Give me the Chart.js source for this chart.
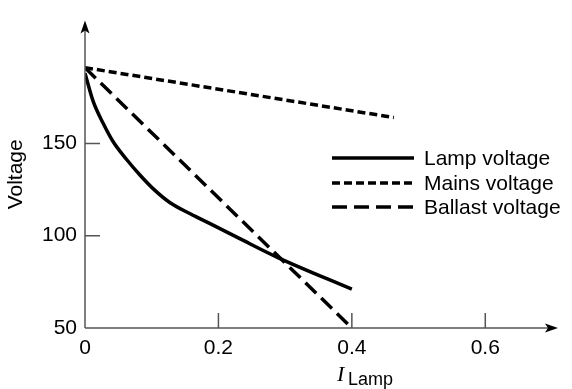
<!DOCTYPE html>
<html>
<head>
<meta charset="utf-8">
<script src="https://cdn.jsdelivr.net/npm/chart.js@4"></script>
<style>
  html, body { margin: 0; padding: 0; background: #fff; }
  #wrap { width: 572px; height: 389px; }
</style>
</head>
<body>
<div id="wrap"><canvas id="myChart"></canvas></div>
<script>
    // values
    const lampCurrent = [0, 0.012, 0.027, 0.042, 0.063, 0.082, 0.102, 0.127, 0.157, 0.192, 0.232, 0.29, 0.4];
    const lampVoltage = [188, 173, 161, 151, 141, 133, 125.5, 118, 112, 105.7, 98.4, 88, 71];
    const mainsCurrent = [0, 0.463];
    const mainsVoltage = [191, 164];
    const ballastCurrent = [0, 0.4];
    const ballastVoltage = [191, 50];
    const xTicks = [0, 0.2, 0.4, 0.6];
    const yTicks = [50, 100, 150];
    const seriesNames = ['Lamp voltage', 'Mains voltage', 'Ballast voltage'];
    const seriesDash = [[], [8, 4], [15, 7]];

    const FONT = '"Liberation Sans", Arial, Helvetica, sans-serif';

    function toPoints(xs, ys) {
        return xs.map((x, i) => ({ x: x, y: ys[i] }));
    }

    const data = {
        datasets: [{
            label: seriesNames[0],
            data: toPoints(lampCurrent, lampVoltage),
            borderColor: '#000',
            borderWidth: 3.5,
            borderDash: seriesDash[0],
            cubicInterpolationMode: 'monotone',
            showLine: true,
            pointRadius: 0
        }, {
            label: seriesNames[1],
            data: toPoints(mainsCurrent, mainsVoltage),
            borderColor: '#000',
            borderWidth: 3.5,
            borderDash: seriesDash[1],
            showLine: true,
            pointRadius: 0
        }, {
            label: seriesNames[2],
            data: toPoints(ballastCurrent, ballastVoltage),
            borderColor: '#000',
            borderWidth: 3.5,
            borderDash: seriesDash[2],
            showLine: true,
            pointRadius: 0
        }]
    };

    // axis lines with arrows, inward ticks, legend and the x title
    const decorations = {
        id: 'decorations',
        afterDraw(chart) {
            const ctx = chart.ctx;
            const xs = chart.scales.x;
            const ys = chart.scales.y;
            const a = chart.chartArea;
            ctx.save();

            // axes
            ctx.strokeStyle = '#555';
            ctx.lineWidth = 1.5;
            ctx.beginPath();
            ctx.moveTo(a.left, a.bottom);
            ctx.lineTo(a.left, a.top + 6);
            ctx.moveTo(a.left, a.bottom);
            ctx.lineTo(a.right - 6, a.bottom);
            ctx.stroke();

            // ticks pointing inward
            ctx.beginPath();
            xTicks.slice(1).forEach(v => {
                const px = xs.getPixelForValue(v);
                ctx.moveTo(px, a.bottom);
                ctx.lineTo(px, a.bottom - 15);
            });
            yTicks.slice(1).forEach(v => {
                const py = ys.getPixelForValue(v);
                ctx.moveTo(a.left, py);
                ctx.lineTo(a.left + 15, py);
            });
            ctx.stroke();

            // arrow heads
            ctx.fillStyle = '#000';
            ctx.beginPath();
            ctx.moveTo(a.left, a.top);
            ctx.lineTo(a.left - 4.5, a.top + 13);
            ctx.lineTo(a.left, a.top + 10);
            ctx.lineTo(a.left + 4.5, a.top + 13);
            ctx.closePath();
            ctx.fill();
            ctx.beginPath();
            ctx.moveTo(a.right, a.bottom);
            ctx.lineTo(a.right - 13, a.bottom - 4.5);
            ctx.lineTo(a.right - 10, a.bottom);
            ctx.lineTo(a.right - 13, a.bottom + 4.5);
            ctx.closePath();
            ctx.fill();

            // legend
            const lx = 332, lw = 82, rowY = [158, 183, 207];
            ctx.strokeStyle = '#000';
            ctx.lineWidth = 3.5;
            ctx.font = '21px ' + FONT;
            ctx.textBaseline = 'middle';
            ctx.textAlign = 'left';
            seriesNames.forEach((name, i) => {
                ctx.setLineDash(seriesDash[i]);
                ctx.beginPath();
                ctx.moveTo(lx, rowY[i]);
                ctx.lineTo(lx + lw, rowY[i]);
                ctx.stroke();
                ctx.setLineDash([]);
                ctx.fillText(name, 424, rowY[i] + 1);
            });

            // x title: I with subscript Lamp
            ctx.textBaseline = 'alphabetic';
            ctx.font = 'italic 22px "Liberation Serif", "Times New Roman", serif';
            ctx.fillText('I', 337, 381);
            ctx.font = '18px ' + FONT;
            ctx.fillText('Lamp', 348, 385);

            ctx.restore();
        }
    };

    const config = {
        type: 'scatter',
        data: data,
        options: {
            responsive: true,
            maintainAspectRatio: false,
            animation: false,
            layout: { padding: { top: 15, right: 14, left: 0, bottom: 0 } },
            plugins: {
                legend: { display: false },
                tooltip: { enabled: false }
            },
            scales: {
                x: {
                    type: 'linear',
                    min: 0,
                    max: 0.709,
                    afterFit: s => { s.height = 61; },
                    afterBuildTicks: s => { s.ticks = xTicks.map(v => ({ value: v })); },
                    grid: { display: false, drawTicks: false },
                    border: { display: false },
                    ticks: {
                        color: '#000',
                        padding: 8,
                        maxRotation: 0,
                        font: { size: 21, family: FONT },
                        callback: v => v === 0 ? '0' : v.toFixed(1)
                    }
                },
                y: {
                    type: 'linear',
                    min: 50,
                    max: 216.5,
                    afterFit: s => { s.width = 85; },
                    afterBuildTicks: s => { s.ticks = yTicks.map(v => ({ value: v })); },
                    grid: { display: false, drawTicks: false },
                    border: { display: false },
                    ticks: {
                        color: '#000',
                        padding: 8,
                        font: { size: 21, family: FONT }
                    },
                    title: {
                        display: true,
                        text: 'Voltage',
                        color: '#000',
                        padding: { top: 4, bottom: 4 },
                        font: { size: 21, family: FONT }
                    }
                }
            }
        },
        plugins: [decorations]
    };

    const myChart = new Chart(
        document.getElementById('myChart'),
        config
    );
</script>
</body>
</html>
